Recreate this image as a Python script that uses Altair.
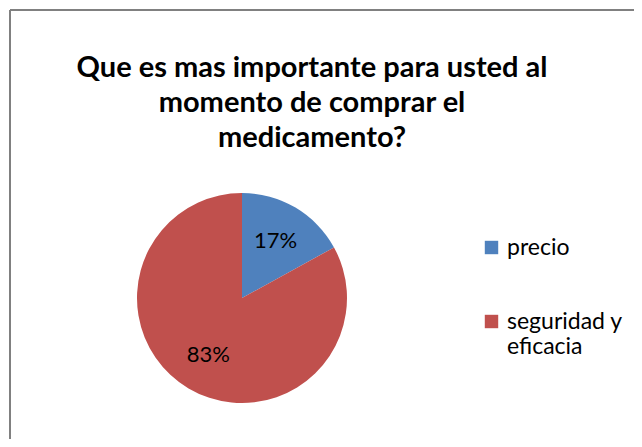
import altair as alt
import pandas as pd

categories = ["precio", "seguridad y eficacia"]
values = [17, 83]
labels = ["17%", "83%"]
colors = ["#4F81BD", "#C0504D"]
title_lines = ["Que es mas importante para usted al", "momento de comprar el", "medicamento?"]

df = pd.DataFrame({"cat": categories, "value": values, "label": labels, "order": [0, 1]})

FONT = "Lato"
W, H = 624, 429
CX, CY = 232, 288

base = alt.Chart(df).encode(
    theta=alt.Theta("value:Q", stack=True),
    order=alt.Order("order:O"),
)

pie = base.mark_arc(outerRadius=105).encode(
    x=alt.value(CX), y=alt.value(CY),
    color=alt.Color(
        "cat:N",
        scale=alt.Scale(domain=categories, range=colors),
        sort=categories,
        legend=alt.Legend(
            title=None, orient="none", legendX=470, legendY=226,
            symbolType="square", symbolSize=180, symbolStrokeWidth=0,
            labelFont=FONT, labelFontSize=23, labelColor="#000000",
            labelOffset=4, rowPadding=50, labelLimit=300,
            labelExpr="datum.label == 'seguridad y eficacia' ? ['seguridad y', 'eficacia'] : datum.label",
        ),
    ),
)

text = base.mark_text(radius=66, font=FONT, fontSize=22, color="#000000").encode(
    x=alt.value(CX), y=alt.value(CY),
    text="label:N",
)

frame_top = alt.Chart(df).mark_rule(color="#808080", strokeWidth=2).encode(
    x=alt.value(0), x2=alt.value(W), y=alt.value(0)
)
frame_left = alt.Chart(df).mark_rule(color="#808080", strokeWidth=2).encode(
    x=alt.value(0), y=alt.value(0), y2=alt.value(H)
)

chart = alt.layer(frame_top, frame_left, pie, text).properties(
    width=W, height=H,
    autosize=alt.AutoSizeParams(type="none"),
    padding={"left": 2, "top": 2, "right": 0, "bottom": 0},
    title=alt.TitleParams(
        text=title_lines, font=FONT, fontSize=29, fontWeight="bold", color="#000000",
        lineHeight=35, anchor="middle", baseline="top", offset=-144, dx=-10,
    ),
).configure_view(stroke=None)

chart.save("out.html", embed_options={"renderer": "svg", "actions": False})
